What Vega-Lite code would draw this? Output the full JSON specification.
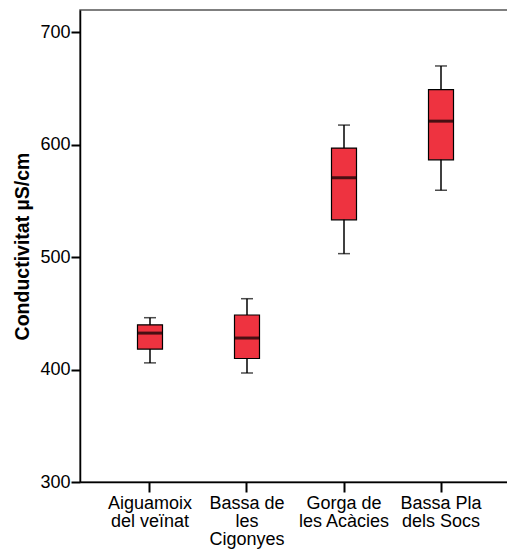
{
  "$schema": "https://vega.github.io/schema/vega-lite/v6.json",
  "width": 431,
  "height": 472,
  "padding": {"left": 12, "top": 10, "right": 0, "bottom": 5},
  "config": {
    "font": "Liberation Sans",
    "view": {"stroke": "#555555", "strokeWidth": 1.5},
    "axis": {"grid": false, "domainColor": "#000000", "tickColor": "#000000", "labelColor": "#000000", "titleColor": "#000000"}
  },
  "data": {
    "values": [
      {"site": "Aiguamoix\ndel veïnat", "min": 406, "q1": 418.3, "median": 432.5, "q3": 439.9, "max": 446.2},
      {"site": "Bassa de\nles\nCigonyes", "min": 397, "q1": 409.9, "median": 428.1, "q3": 448.6, "max": 463.1},
      {"site": "Gorga de\nles Acàcies", "min": 503.2, "q1": 533.3, "median": 570.7, "q3": 597.1, "max": 617.6},
      {"site": "Bassa Pla\ndels Socs", "min": 559.6, "q1": 586.7, "median": 621.1, "q3": 649.1, "max": 670.2}
    ]
  },
  "encoding": {
    "x": {
      "field": "site",
      "type": "nominal",
      "sort": null,
      "scale": {"paddingInner": 0.5, "paddingOuter": 0.4716},
      "axis": {
        "title": null,
        "labelAngle": 0,
        "labelExpr": "split(datum.label, '\\n')",
        "labelFontSize": 18,
        "labelLineHeight": 18,
        "labelPadding": 2,
        "tickSize": 10,
        "tickWidth": 2,
        "domainWidth": 1.5
      }
    }
  },
  "layer": [
    {
      "mark": {"type": "rule", "color": "#000000", "strokeWidth": 1.5},
      "encoding": {
        "y": {
          "field": "min",
          "type": "quantitative",
          "scale": {"domain": [300, 720], "nice": false, "zero": false},
          "axis": {
            "title": "Conductivitat µS/cm",
            "titleFontSize": 19.5,
            "titleFontWeight": "bold",
            "titlePadding": 7,
            "values": [300, 400, 500, 600, 700],
            "labelFontSize": 18,
            "labelPadding": 1,
            "tickSize": 9,
            "tickWidth": 2,
            "domainWidth": 1.5
          }
        },
        "y2": {"field": "max"}
      }
    },
    {
      "mark": {"type": "tick", "color": "#000000", "size": 12, "thickness": 1.5},
      "encoding": {"y": {"field": "min", "type": "quantitative"}}
    },
    {
      "mark": {"type": "tick", "color": "#000000", "size": 12, "thickness": 1.5},
      "encoding": {"y": {"field": "max", "type": "quantitative"}}
    },
    {
      "mark": {"type": "bar", "size": 25, "fill": "#EE3340", "stroke": "#000000", "strokeWidth": 1.2},
      "encoding": {
        "y": {"field": "q1", "type": "quantitative"},
        "y2": {"field": "q3"}
      }
    },
    {
      "mark": {"type": "tick", "color": "#000000", "size": 25, "thickness": 3},
      "encoding": {"y": {"field": "median", "type": "quantitative"}}
    }
  ]
}
